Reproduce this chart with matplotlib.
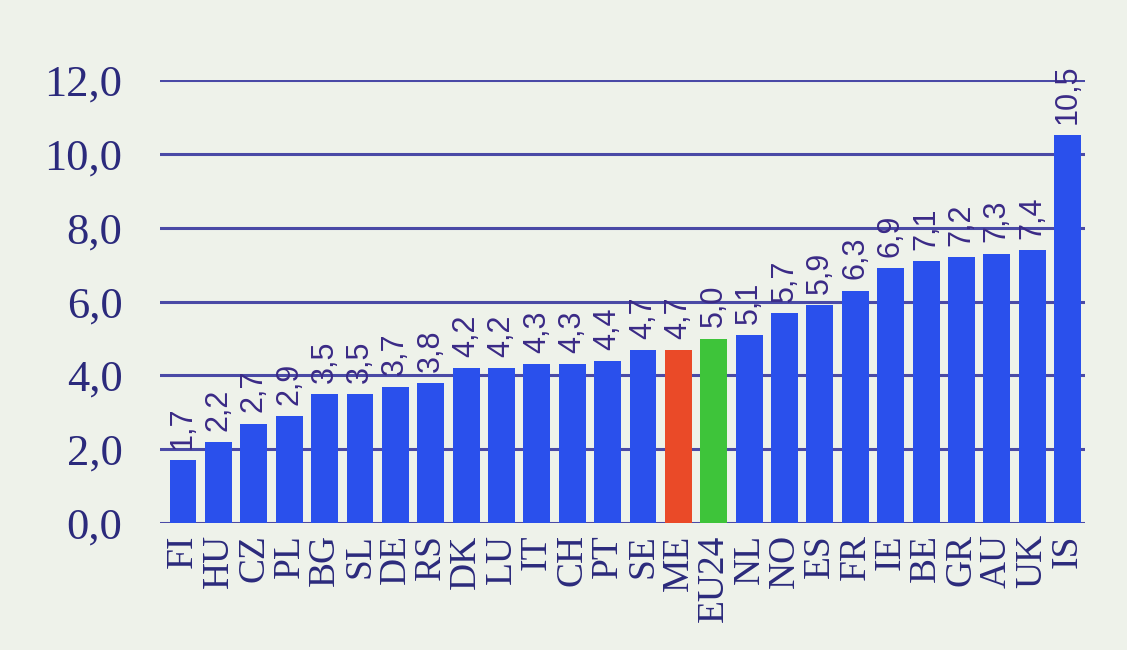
import matplotlib
matplotlib.use("Agg")
import matplotlib.pyplot as plt
import numpy as np

categories = ["FI", "HU", "CZ", "PL", "BG", "SL", "DE", "RS", "DK", "LU", "IT", "CH", "PT",
              "SE", "ME", "EU24", "NL", "NO", "ES", "FR", "IE", "BE", "GR", "AU", "UK", "IS"]
values = [1.7, 2.2, 2.7, 2.9, 3.5, 3.5, 3.7, 3.8, 4.2, 4.2, 4.3, 4.3, 4.4,
          4.7, 4.7, 5.0, 5.1, 5.7, 5.9, 6.3, 6.9, 7.1, 7.2, 7.3, 7.4, 10.5]
y_ticks = [0, 2, 4, 6, 8, 10, 12]

blue = "#2a50ec"
colors = [blue] * len(categories)
colors[categories.index("ME")] = "#ea4a28"
colors[categories.index("EU24")] = "#3ec43a"

navy = "#2b2a7c"
bg = "#eef2ea"

fig = plt.figure(figsize=(11.27, 6.5), dpi=100, facecolor=bg)
ax = fig.add_axes([0.142, 0.195, 0.821, 0.682], facecolor=bg)

x = np.arange(len(categories))
for t in y_ticks:
    ax.axhline(t, color="#4a4aa6", lw=2.2, zorder=1)
ax.bar(x, values, width=0.76, color=colors, zorder=2)

for xi, v in zip(x, values):
    ax.text(xi, v + 0.3, f"{v:.1f}".replace(".", ","), rotation=90, ha="center", va="bottom",
            fontsize=22, color="#3a2a86", family="Liberation Sans", zorder=3)

ax.set_xlim(-0.65, 25.5)
ax.set_ylim(0, 12)
ax.set_yticks(y_ticks)
ax.set_yticklabels([f"{t:.1f}".replace(".", ",") for t in y_ticks],
                   fontsize=32, color=navy, family="Liberation Serif")
ax.set_xticks(x)
ax.set_xticklabels(categories, rotation=90, fontsize=27, color=navy, family="Liberation Serif")
ax.tick_params(length=0, pad=8)
ax.tick_params(axis="y", pad=27)
for s in ax.spines.values():
    s.set_visible(False)

fig.savefig("out.png", dpi=100, facecolor=bg)
